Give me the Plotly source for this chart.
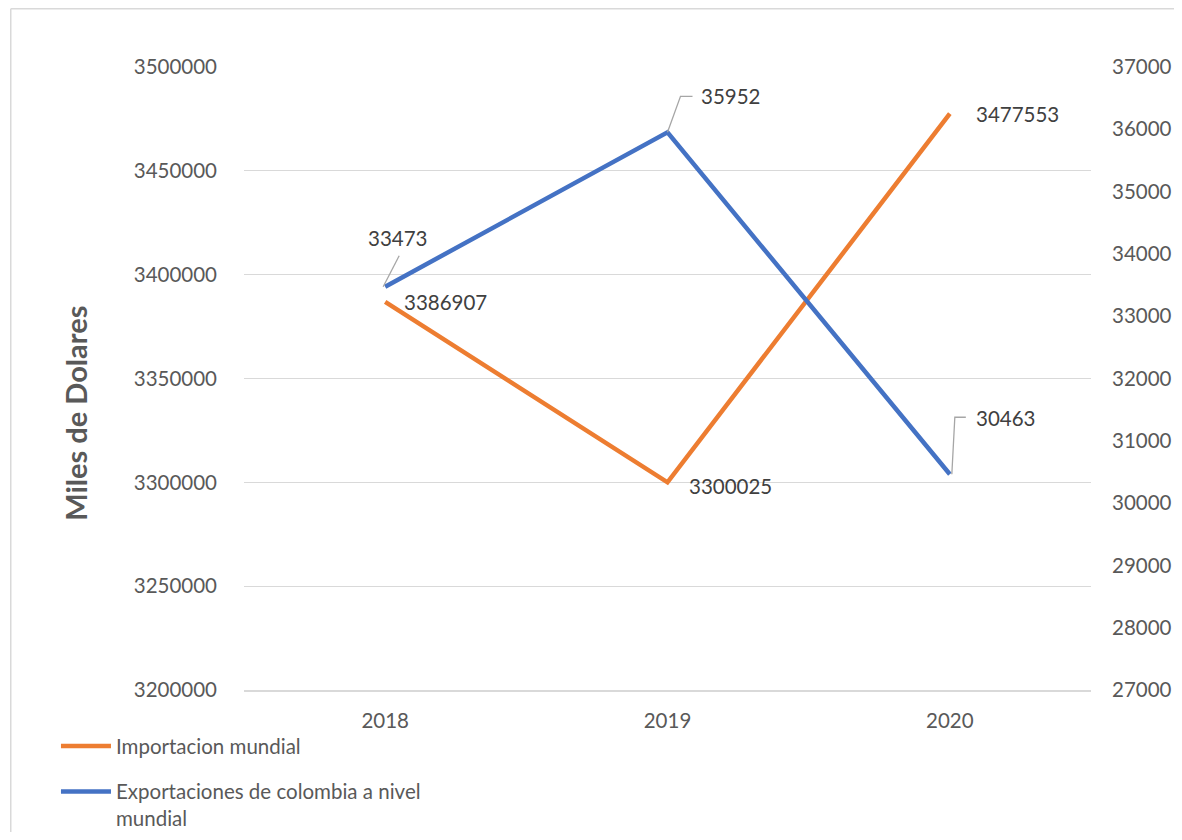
import plotly.graph_objects as go

years = ["2018", "2019", "2020"]
importacion = [3386907, 3300025, 3477553]
exportaciones = [33473, 35952, 30463]
name_imp = "Importacion mundial"
name_exp = "Exportaciones de colombia a nivel<br>mundial"
y_title = "Miles de Dolares"

ORANGE = "#ED7D31"
BLUE = "#4472C4"
FONT = "Lato"
TICK_COLOR = "#595959"
LABEL_COLOR = "#404040"
LEADER = "#a6a6a6"

fig = go.Figure()
fig.add_trace(go.Scatter(x=years, y=importacion, name=name_imp, mode="lines",
                         line=dict(color=ORANGE, width=4.5), yaxis="y", legend="legend"))
fig.add_trace(go.Scatter(x=years, y=exportaciones, name=name_exp, mode="lines",
                         line=dict(color=BLUE, width=4.5), yaxis="y2", legend="legend2"))

# Orange data labels (to the right of each point)
imp_shift = [(17, 0), (19.5, -4), (24, 0)]
for i, (v, (dx, dy)) in enumerate(zip(importacion, imp_shift)):
    fig.add_annotation(x=i, y=v, xref="x", yref="y", text=str(v), showarrow=False,
                       xanchor="left", xshift=dx, yshift=dy,
                       font=dict(family=FONT, size=20.5, color=LABEL_COLOR))

# Blue data labels with leader lines
exp_shift = [("center", 12.7, 49), ("left", 31.5, 36), ("left", 24.5, 56)]
leader_paths = ["M-2,0 L14,31", "M0,0 L13,36 L25,36", "M2,0 L5,57 L16,57"]
for i, (v, (anc, dx, dy), p) in enumerate(zip(exportaciones, exp_shift, leader_paths)):
    fig.add_annotation(x=i, y=v, xref="x", yref="y2", text=str(v), showarrow=False,
                       xanchor=anc, xshift=dx, yshift=dy,
                       font=dict(family=FONT, size=20.5, color=LABEL_COLOR))
    fig.add_shape(type="path", xref="x", yref="y2", xsizemode="pixel", ysizemode="pixel",
                  xanchor=i, yanchor=v, path=p,
                  line=dict(color=LEADER, width=1.3))

# Y axis title (placed like the original, below centre)
fig.add_annotation(x=-0.1999, y=0.4446, xref="paper", yref="paper",
                   xanchor="center", yanchor="middle",
                   text="<b>" + y_title + "</b>", textangle=-90, showarrow=False,
                   font=dict(family=FONT, size=29, color=TICK_COLOR))

# chart area border (top and left edges visible)
fig.add_shape(type="line", xref="paper", yref="paper", x0=-0.2754, x1=1.3, y0=1.0936, y1=1.0936,
              line=dict(color="#d9d9d9", width=1.5))
fig.add_shape(type="line", xref="paper", yref="paper", x0=-0.2754, x1=-0.2754, y0=-0.6, y1=1.0936,
              line=dict(color="#d9d9d9", width=1.5))

fig.update_layout(
    width=1166, height=824,
    margin=dict(l=235.5, r=82.5, t=59, b=142, autoexpand=False),
    paper_bgcolor="white", plot_bgcolor="white",
    font=dict(family=FONT, size=20.5, color=TICK_COLOR),
    xaxis=dict(type="category", showgrid=False, showline=True, linecolor="#d9d9d9",
               linewidth=1.5, ticks="", ticklabelstandoff=12,
               tickfont=dict(size=20.5, color=TICK_COLOR), range=[-0.5, 2.5]),
    yaxis=dict(range=[3200000, 3500000], dtick=50000, showgrid=True, gridcolor="#d9d9d9",
               gridwidth=1.2, zeroline=False, ticks="", ticklabelstandoff=26,
               tickformat="d", tickfont=dict(size=20.5, color=TICK_COLOR)),
    yaxis2=dict(range=[27000, 37000], dtick=1000, overlaying="y", side="right",
                showgrid=False, zeroline=False, ticks="", ticklabelstandoff=20,
                tickformat="d", tickfont=dict(size=20.5, color=TICK_COLOR)),
    legend=dict(x=-0.222, y=-0.058, xanchor="left", yanchor="top", valign="top",
                font=dict(family=FONT, size=20.5, color=TICK_COLOR),
                bgcolor="rgba(0,0,0,0)", itemwidth=50),
    legend2=dict(x=-0.222, y=-0.131, xanchor="left", yanchor="top", valign="top",
                 font=dict(family=FONT, size=20.5, color=TICK_COLOR),
                 bgcolor="rgba(0,0,0,0)", itemwidth=50),
    showlegend=True,
)

fig.write_html("out.html")
